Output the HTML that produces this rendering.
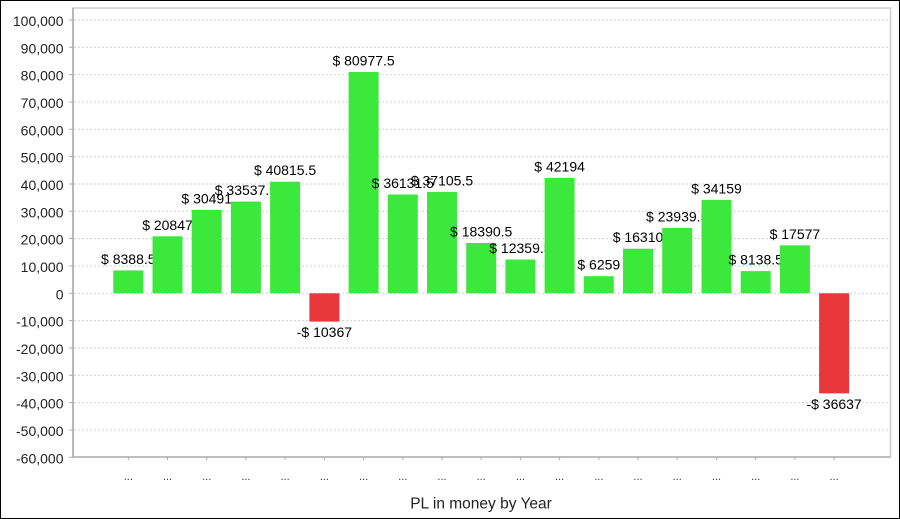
<!DOCTYPE html>
<html><head><meta charset="utf-8"><style>
html,body{margin:0;padding:0;background:#fff;}
svg{display:block;}
text{font-family:"Liberation Sans",Arial,sans-serif;}
</style></head><body>
<svg width="900" height="519" viewBox="0 0 900 519" xmlns="http://www.w3.org/2000/svg">
<rect x="0" y="0" width="900" height="519" fill="#fff"/>
<rect x="0.5" y="0.5" width="899" height="518" fill="none" stroke="#000" stroke-width="1"/>
<!-- plot border -->
<rect x="73" y="8" width="817.5" height="449" fill="#fff" stroke="#cfcfcf" stroke-width="1.5"/>
<!-- gridlines -->
<g stroke="#cfcfcf" stroke-width="1" stroke-dasharray="2,2">
<line x1="74" x2="890" y1="20" y2="20"/>
<line x1="74" x2="890" y1="47.3" y2="47.3"/>
<line x1="74" x2="890" y1="74.6" y2="74.6"/>
<line x1="74" x2="890" y1="102" y2="102"/>
<line x1="74" x2="890" y1="129.3" y2="129.3"/>
<line x1="74" x2="890" y1="156.6" y2="156.6"/>
<line x1="74" x2="890" y1="184" y2="184"/>
<line x1="74" x2="890" y1="211.3" y2="211.3"/>
<line x1="74" x2="890" y1="238.6" y2="238.6"/>
<line x1="74" x2="890" y1="266" y2="266"/>
<line x1="74" x2="890" y1="293.3" y2="293.3"/>
<line x1="74" x2="890" y1="320.6" y2="320.6"/>
<line x1="74" x2="890" y1="348" y2="348"/>
<line x1="74" x2="890" y1="375.3" y2="375.3"/>
<line x1="74" x2="890" y1="402.6" y2="402.6"/>
<line x1="74" x2="890" y1="430" y2="430"/>
</g>
<!-- axes -->
<line x1="73" y1="8" x2="73" y2="457.5" stroke="#a8a8a8" stroke-width="1.5"/>
<line x1="73" y1="457" x2="890.5" y2="457" stroke="#b0b0b0" stroke-width="1.5"/>
<g stroke="#a8a8a8" stroke-width="1">
<line x1="69" x2="73" y1="20" y2="20"/><line x1="69" x2="73" y1="47.3" y2="47.3"/><line x1="69" x2="73" y1="74.6" y2="74.6"/><line x1="69" x2="73" y1="102" y2="102"/><line x1="69" x2="73" y1="129.3" y2="129.3"/><line x1="69" x2="73" y1="156.6" y2="156.6"/><line x1="69" x2="73" y1="184" y2="184"/><line x1="69" x2="73" y1="211.3" y2="211.3"/><line x1="69" x2="73" y1="238.6" y2="238.6"/><line x1="69" x2="73" y1="266" y2="266"/><line x1="69" x2="73" y1="293.3" y2="293.3"/><line x1="69" x2="73" y1="320.6" y2="320.6"/><line x1="69" x2="73" y1="348" y2="348"/><line x1="69" x2="73" y1="375.3" y2="375.3"/><line x1="69" x2="73" y1="402.6" y2="402.6"/><line x1="69" x2="73" y1="430" y2="430"/><line x1="69" x2="73" y1="457.3" y2="457.3"/>
</g>
<g font-size="14" fill="#222" text-anchor="end">
<text x="63.5" y="26">100,000</text>
<text x="63.5" y="53.3">90,000</text>
<text x="63.5" y="80.6">80,000</text>
<text x="63.5" y="108">70,000</text>
<text x="63.5" y="135.3">60,000</text>
<text x="63.5" y="162.6">50,000</text>
<text x="63.5" y="190">40,000</text>
<text x="63.5" y="217.3">30,000</text>
<text x="63.5" y="244.6">20,000</text>
<text x="63.5" y="272">10,000</text>
<text x="63.5" y="299.3">0</text>
<text x="63.5" y="326.6">-10,000</text>
<text x="63.5" y="354">-20,000</text>
<text x="63.5" y="381.3">-30,000</text>
<text x="63.5" y="408.6">-40,000</text>
<text x="63.5" y="436">-50,000</text>
<text x="63.5" y="463.3">-60,000</text>
</g>
<!-- bottom ticks and category labels -->
<g stroke="#a8a8a8" stroke-width="1">
<line x1="128.3" x2="128.3" y1="457" y2="460"/><line x1="167.5" x2="167.5" y1="457" y2="460"/><line x1="206.7" x2="206.7" y1="457" y2="460"/><line x1="245.9" x2="245.9" y1="457" y2="460"/><line x1="285.1" x2="285.1" y1="457" y2="460"/><line x1="324.4" x2="324.4" y1="457" y2="460"/><line x1="363.6" x2="363.6" y1="457" y2="460"/><line x1="402.8" x2="402.8" y1="457" y2="460"/><line x1="442" x2="442" y1="457" y2="460"/><line x1="481.2" x2="481.2" y1="457" y2="460"/><line x1="520.4" x2="520.4" y1="457" y2="460"/><line x1="559.6" x2="559.6" y1="457" y2="460"/><line x1="598.8" x2="598.8" y1="457" y2="460"/><line x1="638" x2="638" y1="457" y2="460"/><line x1="677.2" x2="677.2" y1="457" y2="460"/><line x1="716.5" x2="716.5" y1="457" y2="460"/><line x1="755.7" x2="755.7" y1="457" y2="460"/><line x1="794.9" x2="794.9" y1="457" y2="460"/><line x1="834.1" x2="834.1" y1="457" y2="460"/>
</g>
<g font-size="11" fill="#333" text-anchor="middle">
<text x="128.3" y="480">...</text><text x="167.5" y="480">...</text><text x="206.7" y="480">...</text><text x="245.9" y="480">...</text><text x="285.1" y="480">...</text><text x="324.4" y="480">...</text><text x="363.6" y="480">...</text><text x="402.8" y="480">...</text><text x="442" y="480">...</text><text x="481.2" y="480">...</text><text x="520.4" y="480">...</text><text x="559.6" y="480">...</text><text x="598.8" y="480">...</text><text x="638" y="480">...</text><text x="677.2" y="480">...</text><text x="716.5" y="480">...</text><text x="755.7" y="480">...</text><text x="794.9" y="480">...</text><text x="834.1" y="480">...</text>
</g>
<text x="481" y="508.5" font-size="15.5" fill="#222" text-anchor="middle">PL in money by Year</text>
<!-- bars and labels (drawn in order) -->
<g font-size="14" fill="#000" text-anchor="middle">
<rect x="113.3" y="270.4" width="30" height="22.9" fill="#3de83d"/><text x="128.3" y="263.9">$ 8388.5</text>
<rect x="152.5" y="236.3" width="30" height="57" fill="#3de83d"/><text x="167.5" y="229.8">$ 20847</text>
<rect x="191.7" y="210" width="30" height="83.3" fill="#3de83d"/><text x="206.7" y="203.5">$ 30491</text>
<rect x="230.9" y="201.6" width="30" height="91.7" fill="#3de83d"/><text x="245.9" y="195.1">$ 33537.5</text>
<rect x="270.1" y="181.7" width="30" height="111.6" fill="#3de83d"/><text x="285.1" y="175.2">$ 40815.5</text>
<rect x="309.4" y="293.3" width="30" height="28.3" fill="#e8383c"/><text x="324.4" y="337.1">-$ 10367</text>
<rect x="348.6" y="72" width="30" height="221.3" fill="#3de83d"/><text x="363.6" y="65.5">$ 80977.5</text>
<rect x="387.8" y="194.5" width="30" height="98.8" fill="#3de83d"/><text x="402.8" y="188">$ 36131.5</text>
<rect x="427" y="191.9" width="30" height="101.4" fill="#3de83d"/><text x="442" y="185.4">$ 37105.5</text>
<rect x="466.2" y="243" width="30" height="50.3" fill="#3de83d"/><text x="481.2" y="236.5">$ 18390.5</text>
<rect x="505.4" y="259.5" width="30" height="33.8" fill="#3de83d"/><text x="520.4" y="253">$ 12359.5</text>
<rect x="544.6" y="178" width="30" height="115.3" fill="#3de83d"/><text x="559.6" y="171.5">$ 42194</text>
<rect x="583.8" y="276.2" width="30" height="17.1" fill="#3de83d"/><text x="598.8" y="269.7">$ 6259</text>
<rect x="623" y="248.7" width="30" height="44.6" fill="#3de83d"/><text x="638" y="242.2">$ 16310</text>
<rect x="662.2" y="227.9" width="30" height="65.4" fill="#3de83d"/><text x="677.2" y="221.4">$ 23939.5</text>
<rect x="701.5" y="199.9" width="30" height="93.4" fill="#3de83d"/><text x="716.5" y="193.4">$ 34159</text>
<rect x="740.7" y="271.1" width="30" height="22.2" fill="#3de83d"/><text x="755.7" y="264.6">$ 8138.5</text>
<rect x="779.9" y="245.3" width="30" height="48" fill="#3de83d"/><text x="794.9" y="238.8">$ 17577</text>
<rect x="819.1" y="293.3" width="30" height="100.1" fill="#e8383c"/><text x="834.1" y="408.9">-$ 36637</text>
</g>
</svg>
</body></html>
